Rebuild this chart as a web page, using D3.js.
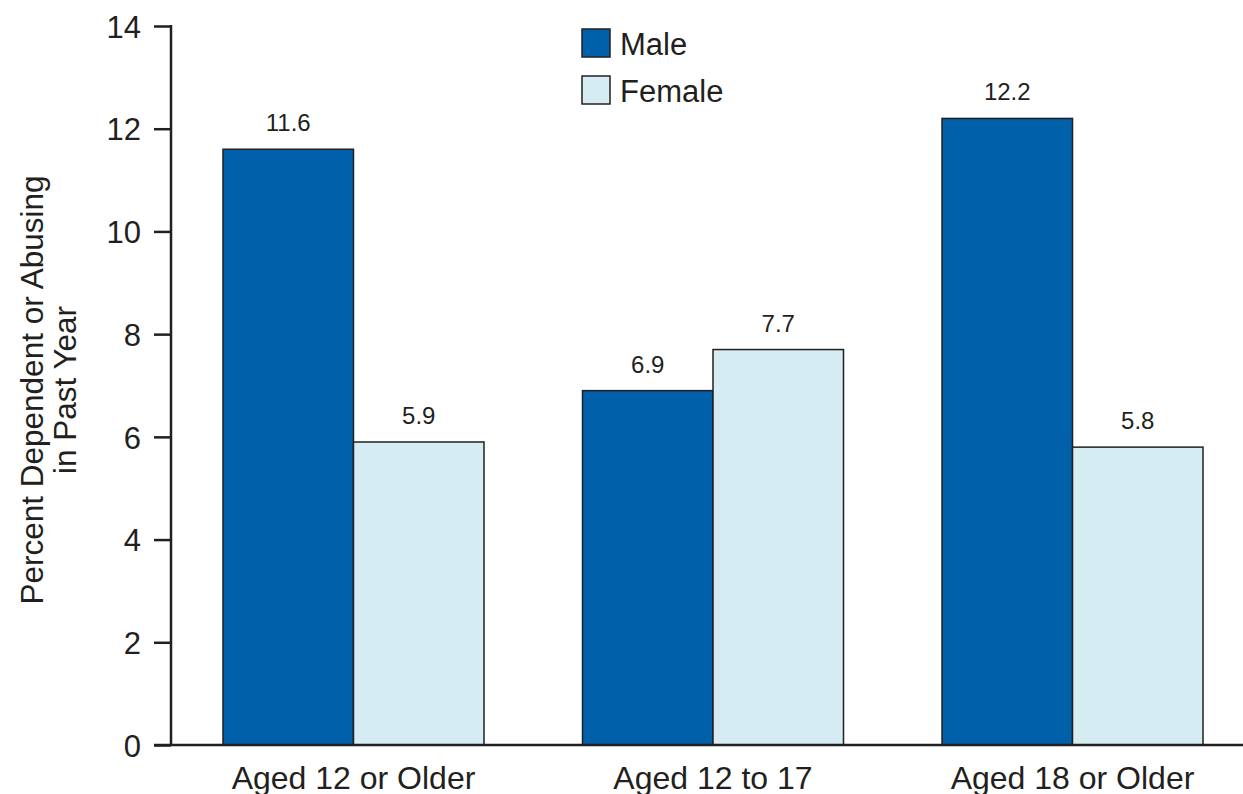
<!DOCTYPE html>
<meta charset="utf-8">
<style>
    body { margin: 0; background: #fff; }
    text { font-family: "Liberation Sans", Arial, sans-serif; fill: #231f20; }
</style>
<svg width="1243" height="794"></svg>
<script src="https://d3js.org/d3.v7.min.js"></script>
<script>

    var categories = ["Aged 12 or Older", "Aged 12 to 17", "Aged 18 or Older"],
        seriesNames = ["Male", "Female"],
        maleValues = [11.6, 6.9, 12.2],
        femaleValues = [5.9, 7.7, 5.8],
        yTicks = [0, 2, 4, 6, 8, 10, 12, 14];

    var colors = {Male: "#0060a9", Female: "#d5edf2"};

    var svg = d3.select("svg"),
        x0 = 171, y0 = 745, yTop = 26;

    var data = categories.map(function (c, i) {
        return {cat: c, values: [
            {key: "Male", value: maleValues[i]},
            {key: "Female", value: femaleValues[i]}
        ]};
    });

    var x = d3.scaleBand()
        .domain(categories)
        .range([x0, 1255])
        .paddingInner(0.274)
        .paddingOuter(0.1446);

    var xs = d3.scaleBand()
        .domain(seriesNames)
        .range([0, x.bandwidth()]);

    var y = d3.scaleLinear()
        .domain([0, 14])
        .range([y0, yTop]);

    // y axis
    var yAxis = svg.append("g")
        .attr("transform", "translate(" + x0 + ",0)")
        .call(d3.axisLeft(y).tickValues(yTicks).tickSize(17).tickPadding(13));
    yAxis.select(".domain").remove();
    yAxis.selectAll(".tick line").attr("stroke", "#231f20").attr("stroke-width", 2.5);
    yAxis.selectAll(".tick text")
        .style("font-size", "31px")
        .attr("dy", "0.36em")
        .style("font-family", "Liberation Sans, Arial, sans-serif")
        .attr("fill", "#231f20");
    svg.append("line")
        .attr("x1", x0).attr("x2", x0)
        .attr("y1", yTop - 1).attr("y2", y0)
        .attr("stroke", "#231f20").attr("stroke-width", 2.5);

    // bars
    var groups = svg.selectAll(".grp")
        .data(data)
        .enter().append("g")
        .attr("class", "grp")
        .attr("transform", function (d) { return "translate(" + x(d.cat) + ",0)"; });

    groups.selectAll("rect")
        .data(function (d) { return d.values; })
        .enter().append("rect")
        .attr("x", function (d) { return xs(d.key); })
        .attr("y", function (d) { return y(d.value); })
        .attr("width", xs.bandwidth())
        .attr("height", function (d) { return y0 - y(d.value); })
        .attr("fill", function (d) { return colors[d.key]; })
        .attr("stroke", "#231f20")
        .attr("stroke-width", 1.5);

    groups.selectAll(".val")
        .data(function (d) { return d.values; })
        .enter().append("text")
        .attr("class", "val")
        .attr("x", function (d) { return xs(d.key) + xs.bandwidth() / 2; })
        .attr("y", function (d) { return y(d.value) - 18; })
        .attr("text-anchor", "middle")
        .style("font-size", "24px")
        .text(function (d) { return d.value.toFixed(1); });

    // baseline
    svg.append("line")
        .attr("x1", 154).attr("x2", 1243)
        .attr("y1", y0).attr("y2", y0)
        .attr("stroke", "#231f20").attr("stroke-width", 2.5);

    // category labels
    svg.selectAll(".cat")
        .data(categories)
        .enter().append("text")
        .attr("class", "cat")
        .attr("x", function (d) { return x(d) + x.bandwidth() / 2; })
        .attr("y", 789)
        .attr("text-anchor", "middle")
        .style("font-size", "32px")
        .text(function (d) { return d; });

    // y title
    var title = svg.append("text")
        .attr("transform", "translate(43,390) rotate(-90)")
        .attr("text-anchor", "middle")
        .style("font-size", "31.5px");
    title.append("tspan").attr("x", 0).attr("dy", 0).text("Percent Dependent or Abusing");
    title.append("tspan").attr("x", 0).attr("dy", 33).text("in Past Year");

    // legend
    var legend = svg.selectAll(".leg")
        .data(seriesNames)
        .enter().append("g")
        .attr("class", "leg")
        .attr("transform", function (d, i) { return "translate(582," + (29 + i * 47) + ")"; });
    legend.append("rect")
        .attr("width", 28).attr("height", 28)
        .attr("fill", function (d) { return colors[d]; })
        .attr("stroke", "#231f20").attr("stroke-width", 1.5);
    legend.append("text")
        .attr("x", 38).attr("y", 26)
        .style("font-size", "31px")
        .text(function (d) { return d; });
</script>
